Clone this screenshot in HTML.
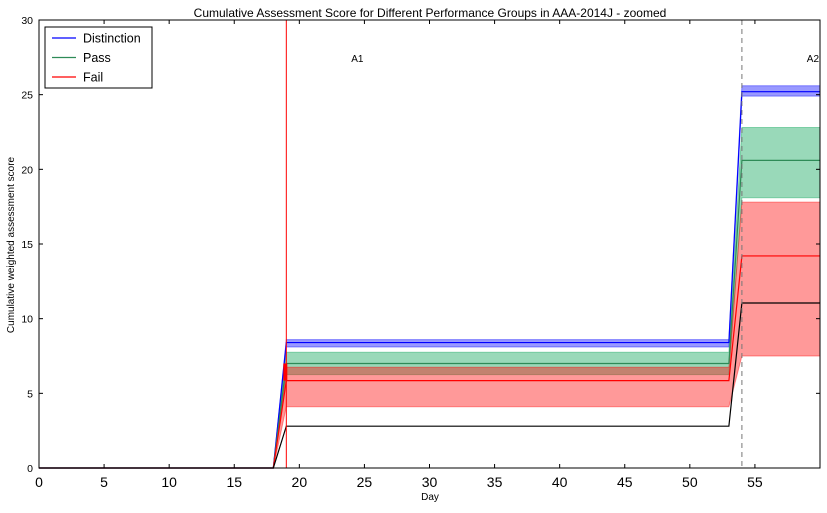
<!DOCTYPE html>
<html><head><meta charset="utf-8"><style>
body{margin:0;background:#fff;font-family:"Liberation Sans",sans-serif}
</style></head><body>
<svg id="chart" width="827" height="508" xmlns="http://www.w3.org/2000/svg" font-family="Liberation Sans, sans-serif"></svg>
<script>
const days=[0,18,19,53,54,60];
const distMean=[0,0,8.4,8.4,25.2,25.2];
const distLo=[0,0,8.1,8.1,24.9,24.9];
const distHi=[0,0,8.6,8.6,25.6,25.6];
const passMean=[0,0,7.0,7.0,20.6,20.6];
const passLo=[0,0,6.25,6.25,18.1,18.1];
const passHi=[0,0,7.75,7.75,22.8,22.8];
const failMean=[0,0,5.85,5.85,14.2,14.2];
const failLo=[0,0,4.1,4.1,7.5,7.5];
const failHi=[0,0,6.75,6.75,17.8,17.8];
const blackDays=[0,18,19,53,54,60];
const blackVals=[0,0,2.8,2.8,11.05,11.05];
const xTicks=[0,5,10,15,20,25,30,35,40,45,50,55];
const yTicks=[0,5,10,15,20,25,30];
const assessDays=[19,54];
const assessNames=["A1","A2"];

const L=39,R=820,T=20,B=468;
const xs=d=>L+d*(R-L)/60;
const ys=v=>B-v*(B-T)/30;
const svg=document.getElementById('chart');
const NS="http://www.w3.org/2000/svg";
function mk(tag,attrs,parent){const e=document.createElementNS(NS,tag);for(const k in attrs)e.setAttribute(k,attrs[k]);(parent||svg).appendChild(e);return e;}
function pts(xa,ya){return xa.map((d,i)=>xs(d)+","+ys(ya[i])).join(" ");}
function band(lo,hi,color,name){
  const p=days.map((d,i)=>xs(d)+","+ys(hi[i])).concat(days.slice().reverse().map((d,j)=>{const i=days.length-1-j;return xs(d)+","+ys(lo[i]);})).join(" ");
  const e=mk('polygon',{points:p,fill:color,'fill-opacity':0.4,stroke:color,'stroke-opacity':0.4,'stroke-width':1});
  
  
}
band(distLo,distHi,'#0000ff','distinction-band');
band(passLo,passHi,'#00a050','pass-band');
band(failLo,failHi,'#ff0000','fail-band');
function line(xa,ya,color,name){
  const e=mk('polyline',{points:pts(xa,ya),fill:'none',stroke:color,'stroke-width':1.2});
  
  
}
line(days,distMean,'#0000ff','distinction-line');
line(days,passMean,'#2e8b57','pass-line');
line(days,failMean,'#ff0000','fail-line');
line(blackDays,blackVals,'#000000','black-line');
const mr=mk('rect',{x:xs(19)-3,y:ys(passMean[2]),width:4,height:ys(failMean[2])-ys(passMean[2]),fill:'#ff0000'});


assessDays.forEach((d,i)=>{
  const v=mk('line',{x1:xs(d),x2:xs(d),y1:T,y2:B,stroke:i==0?'#ff0000':'#777','stroke-width':1,'stroke-dasharray':i==0?'none':'5,4'});
  
  
  const t=mk('text',{x:xs(d)+71,y:62,'font-size':10,'text-anchor':'middle'});
  t.textContent=assessNames[i];
  
  
});
const fr=mk('rect',{x:L,y:T,width:R-L,height:B-T,fill:'none',stroke:'#000','stroke-width':1});


xTicks.forEach(t=>{
  const x=xs(t);
  mk('line',{x1:x,x2:x,y1:B,y2:B-4,stroke:'#000'});
  mk('line',{x1:x,x2:x,y1:T,y2:T+4,stroke:'#000'});
  const e=mk('text',{x:x,y:B+19,'font-size':14,'text-anchor':'middle'});
  e.textContent=t;
  
  
});
yTicks.forEach(t=>{
  const y=ys(t);
  mk('line',{x1:L,x2:L+4,y1:y,y2:y,stroke:'#000'});
  mk('line',{x1:R,x2:R-4,y1:y,y2:y,stroke:'#000'});
  const e=mk('text',{x:L-6,y:y+4,'font-size':10.5,'text-anchor':'end'});
  e.textContent=t;
  
  
});
const ti=mk('text',{x:430,y:17,'font-size':12,'text-anchor':'middle'});
ti.textContent='Cumulative Assessment Score for Different Performance Groups in AAA-2014J - zoomed';


const xt=mk('text',{x:430,y:500,'font-size':10,'text-anchor':'middle'});
xt.textContent='Day';


const yt=mk('text',{x:14,y:245,'font-size':10,'text-anchor':'middle',transform:'rotate(-90 14 245)'});
yt.textContent='Cumulative weighted assessment score';


const lg=mk('g',{});


mk('rect',{x:45,y:27,width:107,height:61,fill:'#fff',stroke:'#000'},lg);
[['Distinction','#0000ff'],['Pass','#2e8b57'],['Fail','#ff0000']].forEach((s,i)=>{
  const y=38+i*19.5;
  const g=mk('g',{},lg);
  
  
  mk('line',{x1:52,x2:76,y1:y,y2:y,stroke:s[1],'stroke-width':1.2},g);
  const t=mk('text',{x:83,y:y+4.5,'font-size':12.5},g);
  t.textContent=s[0];
});
</script>
</body></html>
